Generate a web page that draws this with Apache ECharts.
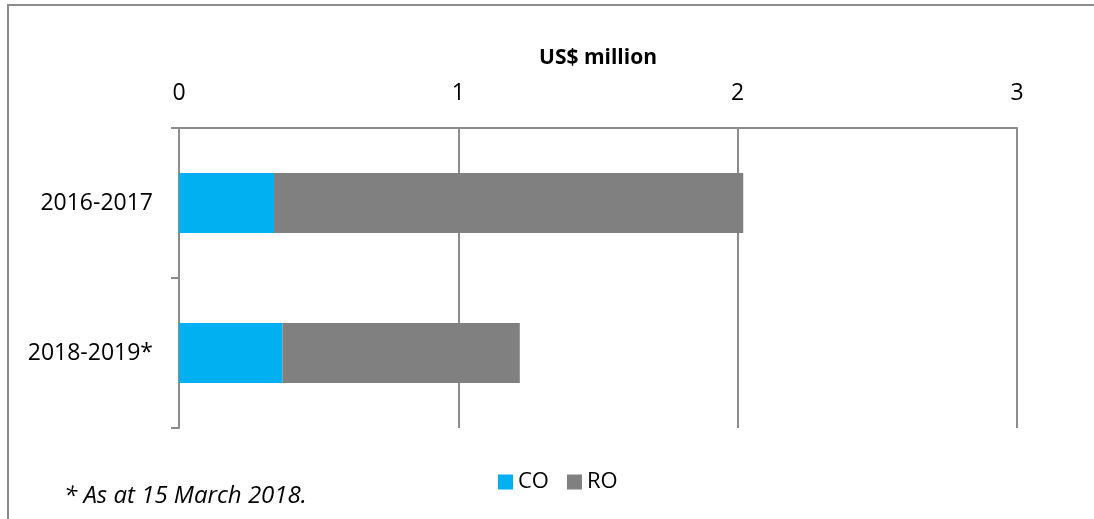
<!DOCTYPE html>
<html>
<head>
<meta charset="utf-8">
<script src="https://cdn.jsdelivr.net/npm/echarts@6/dist/echarts.min.js"></script>
<style>
  html, body { margin: 0; padding: 0; background: #fff; }
  #chart { width: 1094px; height: 519px; }
</style>
</head>
<body>
<div id="chart"></div>
<script>
// Funding by period, US$ million
const periods = ['2016-2017', '2018-2019*'];
const coValues = [0.34, 0.37];
const roValues = [1.68, 0.85];
const axisTicks = [0, 1, 2, 3];
const axisTitle = 'US$ million';
const footnote = '* As at 15 March 2018.';

const FONT = "'Open Sans', 'Noto Sans', sans-serif";
const LINE = '#8c8c8c';

const chart = echarts.init(document.getElementById('chart'), null, { renderer: 'canvas' });

chart.setOption({
  animation: false,
  backgroundColor: '#ffffff',
  textStyle: { fontFamily: FONT, color: '#000' },
  grid: { left: 179, right: 77, top: 128, bottom: 91, containLabel: false },
  legend: {
    data: ['CO', 'RO'],
    left: 493,
    top: 466,
    icon: 'rect',
    itemWidth: 15,
    itemHeight: 15,
    itemGap: 18,
    textStyle: { fontFamily: FONT, fontSize: 22, color: '#000' }
  },
  xAxis: {
    type: 'value',
    position: 'top',
    min: axisTicks[0],
    max: axisTicks[axisTicks.length - 1],
    interval: 1,
    name: axisTitle,
    nameLocation: 'middle',
    nameGap: 59,
    nameTextStyle: { fontFamily: FONT, fontSize: 21, fontWeight: 'bold', color: '#000' },
    axisLine: { show: true, lineStyle: { color: LINE, width: 2 } },
    axisTick: { show: false },
    axisLabel: { fontFamily: FONT, fontSize: 23, color: '#000', margin: 23 },
    splitLine: { show: true, lineStyle: { color: LINE, width: 2 } }
  },
  yAxis: {
    type: 'category',
    inverse: true,
    data: periods,
    axisLine: { show: true, lineStyle: { color: LINE, width: 2 } },
    axisTick: { show: true, length: 8, lineStyle: { color: LINE, width: 2 } },
    axisLabel: { fontFamily: FONT, fontSize: 23, color: '#000', margin: 26 }
  },
  series: [
    {
      name: 'CO',
      type: 'bar',
      stack: 'total',
      barWidth: '40%',
      itemStyle: { color: '#00B0F0' },
      data: coValues
    },
    {
      name: 'RO',
      type: 'bar',
      stack: 'total',
      barWidth: '40%',
      itemStyle: { color: '#808080' },
      data: roValues
    }
  ],
  graphic: [
    {
      type: 'rect',
      shape: { x: 8, y: 5, width: 1200, height: 700 },
      style: { fill: 'none', stroke: LINE, lineWidth: 2 },
      silent: true,
      z: -1
    },
    {
      type: 'text',
      left: 64,
      top: 484,
      style: {
        text: footnote,
        fontFamily: FONT,
        fontSize: 24,
        fontStyle: 'italic',
        fill: '#000'
      }
    }
  ]
});
</script>
</body>
</html>
